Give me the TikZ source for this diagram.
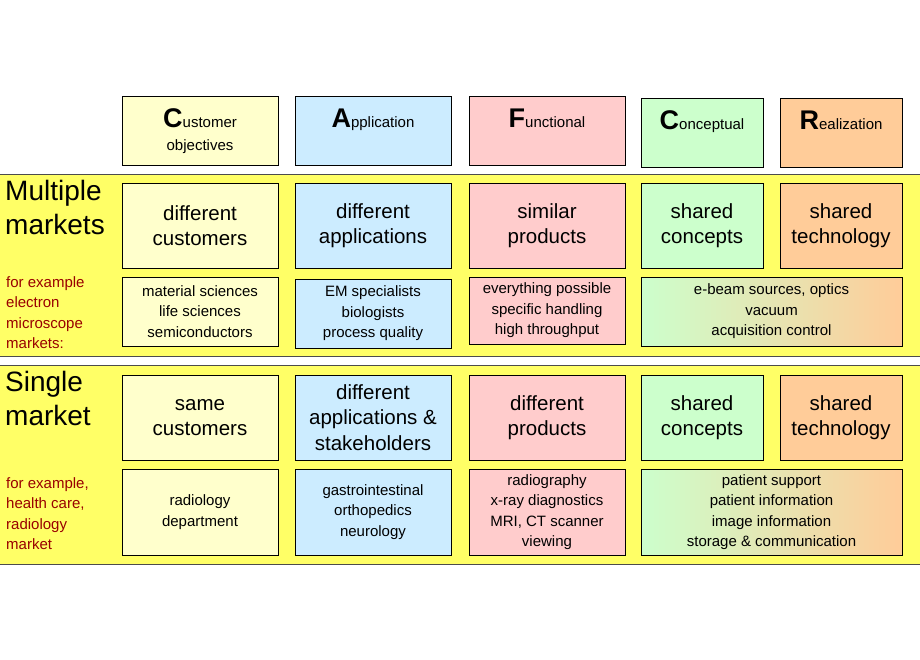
\documentclass[tikz,border=0pt]{standalone}
\usepackage{fontspec}
\setmainfont{Liberation Sans}
\begin{document}
\begin{tikzpicture}[x=1pt,y=-1pt,
 bx/.style={draw=black,line width=0.6pt,align=center,inner sep=0pt},
 big/.style={font=\fontsize{20.5}{25.5}\selectfont},
 sm/.style={font=\fontsize{15}{20.5}\selectfont},
 ht/.style={anchor=base,inner sep=0pt,font=\fontsize{15}{15}\selectfont},
 band/.style={draw=black!70,line width=0.5pt,fill=yellow!55!white}]
\definecolor{cy}{HTML}{FFFFCC}\definecolor{cb}{HTML}{CCECFF}
\definecolor{cp}{HTML}{FFCCCC}\definecolor{cg}{HTML}{CCFFCC}
\definecolor{co}{HTML}{FFCC99}\definecolor{red}{HTML}{990000}
\definecolor{bandc}{HTML}{FFFF66}
\useasboundingbox (0,0) rectangle (920,660);
\newcommand\bxx[6]{\node[bx,fill=#5,minimum width=#3-#1,minimum height=#4-#2,#6] at ({(#1+#3)/2},{(#2+#4)/2})}
\newcommand\BL[1]{{\fontsize{27}{27}\selectfont\bfseries #1}}
% headers
\bxx{122}{96}{278}{165}{cy}{} (h1) {};
\bxx{295}{96}{451}{165}{cb}{} (h2) {};
\bxx{469}{96}{625}{165}{cp}{} (h3) {};
\bxx{641}{98}{763}{167}{cg}{} (h4) {};
\bxx{780}{98}{902}{167}{co}{} (h5) {};
\node[ht] (t1) at (200,128) {\BL{C}ustomer};
\node[ht] (t1b) at (200,151) {objectives};
\node[ht] (t2) at (373,128) {\BL{A}pplication};
\node[ht] (t3) at (547,128) {\BL{F}unctional};
\node[ht] (t4) at (702,130) {\BL{C}onceptual};
\node[ht] (t5) at (841,130) {\BL{R}ealization};
% bands
\path[band,fill=bandc] (-1,174) rectangle (921,356);
\path[band,fill=bandc] (-1,365) rectangle (921,564);
\node[anchor=north west,align=left,inner sep=0pt,font=\fontsize{28}{34}\selectfont] (m1) at (5,180) {Multiple\\markets};
\node[anchor=north west,align=left,inner sep=0pt,text=red,font=\fontsize{15}{20.5}\selectfont] (e1) at (6,276) {for example\\electron\\microscope\\markets:};
\node[anchor=north west,align=left,inner sep=0pt,font=\fontsize{28}{34}\selectfont] (m2) at (5,371) {Single\\market};
\node[anchor=north west,align=left,inner sep=0pt,text=red,font=\fontsize{15}{20.5}\selectfont] (e2) at (6,477) {for example,\\health care,\\radiology\\market};
% band 1
\bxx{122}{183}{278}{268}{cy}{big} (a1) {different\\customers};
\bxx{295}{183}{451}{268}{cb}{big} (a2) {different\\applications};
\bxx{469}{183}{625}{268}{cp}{big} (a3) {similar\\products};
\bxx{641}{183}{763}{268}{cg}{big} (a4) {shared\\concepts};
\bxx{780}{183}{902}{268}{co}{big} (a5) {shared\\technology};
\bxx{122}{277}{278}{346}{cy}{sm} (b1) {material sciences\\life sciences\\semiconductors};
\bxx{295}{279}{451}{348}{cb}{sm} (b2) {EM specialists\\biologists\\process quality};
\bxx{469}{277}{625}{344}{cp}{sm} (b3) {everything possible\\specific handling\\high throughput};
\bxx{641}{277}{902}{346}{cg}{sm,left color=cg,right color=co} (b4) {e-beam sources, optics\\vacuum\\acquisition control};
% band 2
\bxx{122}{375}{278}{460}{cy}{big} (c1) {same\\customers};
\bxx{295}{375}{451}{460}{cb}{big} (c2) {different\\applications \&\\stakeholders};
\bxx{469}{375}{625}{460}{cp}{big} (c3) {different\\products};
\bxx{641}{375}{763}{460}{cg}{big} (c4) {shared\\concepts};
\bxx{780}{375}{902}{460}{co}{big} (c5) {shared\\technology};
\bxx{122}{469}{278}{555}{cy}{sm} (d1) {radiology\\department};
\bxx{295}{469}{451}{555}{cb}{sm} (d2) {gastrointestinal\\orthopedics\\neurology};
\bxx{469}{469}{625}{555}{cp}{sm} (d3) {radiography\\x-ray diagnostics\\MRI, CT scanner\\viewing};
\bxx{641}{469}{902}{555}{cg}{sm,left color=cg,right color=co} (d4) {patient support\\patient information\\image information\\storage \& communication};
\end{tikzpicture}
\end{document}
